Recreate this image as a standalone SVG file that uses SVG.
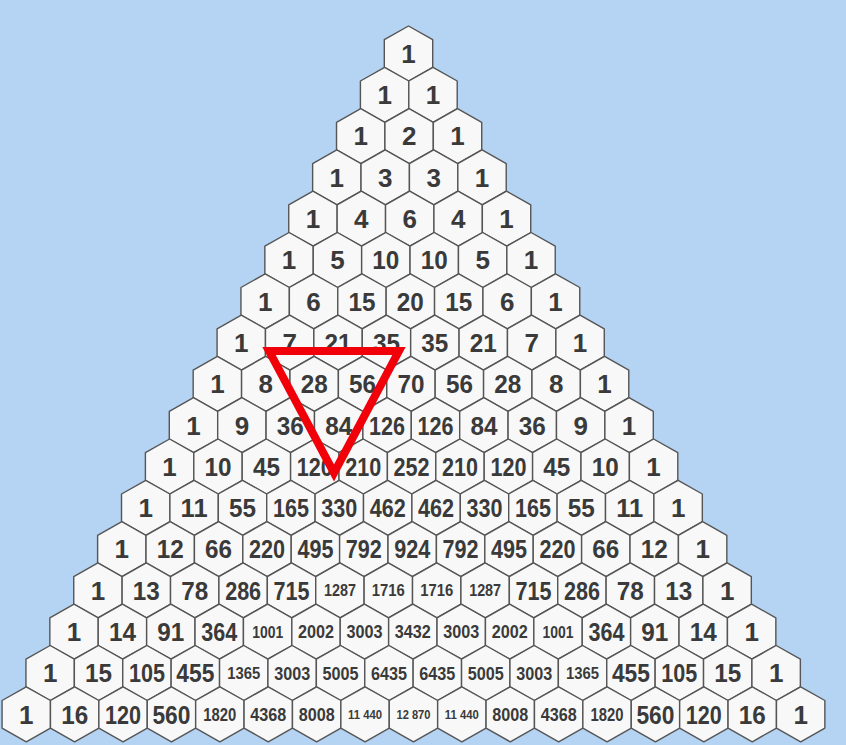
<svg xmlns="http://www.w3.org/2000/svg" xmlns:xlink="http://www.w3.org/1999/xlink" width="846" height="745" viewBox="0 0 846 745">
<defs>
<style>
.h{fill:#f8f8f8;stroke:#555555;stroke-width:1.4;stroke-linejoin:round}
.t{font-family:"Liberation Sans",Arial,sans-serif;font-weight:bold;fill:#3a3a3a;text-anchor:middle}
.L{font-size:26px}
.M{font-size:18.5px}
.S{font-size:16.5px}
.X{font-size:12.5px}
</style>
<path id="h" class="h" d="M0,-27.5 L24.2,-13.8 L24.2,13.8 L0,27.5 L-24.2,13.8 L-24.2,-13.8 Z"/>
</defs>
<rect width="846" height="745" fill="#b5d3f2"/>
<g id="triangle-cells">
<g id="row0" transform="translate(408.5,53.5)">
<g id="c0_0"><use href="#h"/><text class="t L" y="9.3">1</text></g>
</g>
<g id="row1" transform="translate(384.61,94.8)">
<g id="c1_0"><use href="#h"/><text class="t L" y="9.3">1</text></g>
<g id="c1_1" transform="translate(48.4,0)"><use href="#h"/><text class="t L" y="9.3">1</text></g>
</g>
<g id="row2" transform="translate(360.72,136.1)">
<g id="c2_0"><use href="#h"/><text class="t L" y="9.3">1</text></g>
<g id="c2_1" transform="translate(48.4,0)"><use href="#h"/><text class="t L" y="9.3">2</text></g>
<g id="c2_2" transform="translate(96.8,0)"><use href="#h"/><text class="t L" y="9.3">1</text></g>
</g>
<g id="row3" transform="translate(336.83,177.4)">
<g id="c3_0"><use href="#h"/><text class="t L" y="9.3">1</text></g>
<g id="c3_1" transform="translate(48.4,0)"><use href="#h"/><text class="t L" y="9.3">3</text></g>
<g id="c3_2" transform="translate(96.8,0)"><use href="#h"/><text class="t L" y="9.3">3</text></g>
<g id="c3_3" transform="translate(145.2,0)"><use href="#h"/><text class="t L" y="9.3">1</text></g>
</g>
<g id="row4" transform="translate(312.94,218.7)">
<g id="c4_0"><use href="#h"/><text class="t L" y="9.3">1</text></g>
<g id="c4_1" transform="translate(48.4,0)"><use href="#h"/><text class="t L" y="9.3">4</text></g>
<g id="c4_2" transform="translate(96.8,0)"><use href="#h"/><text class="t L" y="9.3">6</text></g>
<g id="c4_3" transform="translate(145.2,0)"><use href="#h"/><text class="t L" y="9.3">4</text></g>
<g id="c4_4" transform="translate(193.6,0)"><use href="#h"/><text class="t L" y="9.3">1</text></g>
</g>
<g id="row5" transform="translate(289.05,260)">
<g id="c5_0"><use href="#h"/><text class="t L" y="9.3">1</text></g>
<g id="c5_1" transform="translate(48.4,0)"><use href="#h"/><text class="t L" y="9.3">5</text></g>
<g id="c5_2" transform="translate(96.8,0)"><use href="#h"/><text class="t L" y="9.3" textLength="27" lengthAdjust="spacingAndGlyphs">10</text></g>
<g id="c5_3" transform="translate(145.2,0)"><use href="#h"/><text class="t L" y="9.3" textLength="27" lengthAdjust="spacingAndGlyphs">10</text></g>
<g id="c5_4" transform="translate(193.6,0)"><use href="#h"/><text class="t L" y="9.3">5</text></g>
<g id="c5_5" transform="translate(242,0)"><use href="#h"/><text class="t L" y="9.3">1</text></g>
</g>
<g id="row6" transform="translate(265.16,301.3)">
<g id="c6_0"><use href="#h"/><text class="t L" y="9.3">1</text></g>
<g id="c6_1" transform="translate(48.4,0)"><use href="#h"/><text class="t L" y="9.3">6</text></g>
<g id="c6_2" transform="translate(96.8,0)"><use href="#h"/><text class="t L" y="9.3" textLength="27" lengthAdjust="spacingAndGlyphs">15</text></g>
<g id="c6_3" transform="translate(145.2,0)"><use href="#h"/><text class="t L" y="9.3" textLength="27" lengthAdjust="spacingAndGlyphs">20</text></g>
<g id="c6_4" transform="translate(193.6,0)"><use href="#h"/><text class="t L" y="9.3" textLength="27" lengthAdjust="spacingAndGlyphs">15</text></g>
<g id="c6_5" transform="translate(242,0)"><use href="#h"/><text class="t L" y="9.3">6</text></g>
<g id="c6_6" transform="translate(290.4,0)"><use href="#h"/><text class="t L" y="9.3">1</text></g>
</g>
<g id="row7" transform="translate(241.27,342.6)">
<g id="c7_0"><use href="#h"/><text class="t L" y="9.3">1</text></g>
<g id="c7_1" transform="translate(48.4,0)"><use href="#h"/><text class="t L" y="9.3">7</text></g>
<g id="c7_2" transform="translate(96.8,0)"><use href="#h"/><text class="t L" y="9.3" textLength="27" lengthAdjust="spacingAndGlyphs">21</text></g>
<g id="c7_3" transform="translate(145.2,0)"><use href="#h"/><text class="t L" y="9.3" textLength="27" lengthAdjust="spacingAndGlyphs">35</text></g>
<g id="c7_4" transform="translate(193.6,0)"><use href="#h"/><text class="t L" y="9.3" textLength="27" lengthAdjust="spacingAndGlyphs">35</text></g>
<g id="c7_5" transform="translate(242,0)"><use href="#h"/><text class="t L" y="9.3" textLength="27" lengthAdjust="spacingAndGlyphs">21</text></g>
<g id="c7_6" transform="translate(290.4,0)"><use href="#h"/><text class="t L" y="9.3">7</text></g>
<g id="c7_7" transform="translate(338.8,0)"><use href="#h"/><text class="t L" y="9.3">1</text></g>
</g>
<g id="row8" transform="translate(217.38,383.9)">
<g id="c8_0"><use href="#h"/><text class="t L" y="9.3">1</text></g>
<g id="c8_1" transform="translate(48.4,0)"><use href="#h"/><text class="t L" y="9.3">8</text></g>
<g id="c8_2" transform="translate(96.8,0)"><use href="#h"/><text class="t L" y="9.3" textLength="27" lengthAdjust="spacingAndGlyphs">28</text></g>
<g id="c8_3" transform="translate(145.2,0)"><use href="#h"/><text class="t L" y="9.3" textLength="27" lengthAdjust="spacingAndGlyphs">56</text></g>
<g id="c8_4" transform="translate(193.6,0)"><use href="#h"/><text class="t L" y="9.3" textLength="27" lengthAdjust="spacingAndGlyphs">70</text></g>
<g id="c8_5" transform="translate(242,0)"><use href="#h"/><text class="t L" y="9.3" textLength="27" lengthAdjust="spacingAndGlyphs">56</text></g>
<g id="c8_6" transform="translate(290.4,0)"><use href="#h"/><text class="t L" y="9.3" textLength="27" lengthAdjust="spacingAndGlyphs">28</text></g>
<g id="c8_7" transform="translate(338.8,0)"><use href="#h"/><text class="t L" y="9.3">8</text></g>
<g id="c8_8" transform="translate(387.2,0)"><use href="#h"/><text class="t L" y="9.3">1</text></g>
</g>
<g id="row9" transform="translate(193.49,425.2)">
<g id="c9_0"><use href="#h"/><text class="t L" y="9.3">1</text></g>
<g id="c9_1" transform="translate(48.4,0)"><use href="#h"/><text class="t L" y="9.3">9</text></g>
<g id="c9_2" transform="translate(96.8,0)"><use href="#h"/><text class="t L" y="9.3" textLength="27" lengthAdjust="spacingAndGlyphs">36</text></g>
<g id="c9_3" transform="translate(145.2,0)"><use href="#h"/><text class="t L" y="9.3" textLength="27" lengthAdjust="spacingAndGlyphs">84</text></g>
<g id="c9_4" transform="translate(193.6,0)"><use href="#h"/><text class="t L" y="9.3" textLength="36" lengthAdjust="spacingAndGlyphs">126</text></g>
<g id="c9_5" transform="translate(242,0)"><use href="#h"/><text class="t L" y="9.3" textLength="36" lengthAdjust="spacingAndGlyphs">126</text></g>
<g id="c9_6" transform="translate(290.4,0)"><use href="#h"/><text class="t L" y="9.3" textLength="27" lengthAdjust="spacingAndGlyphs">84</text></g>
<g id="c9_7" transform="translate(338.8,0)"><use href="#h"/><text class="t L" y="9.3" textLength="27" lengthAdjust="spacingAndGlyphs">36</text></g>
<g id="c9_8" transform="translate(387.2,0)"><use href="#h"/><text class="t L" y="9.3">9</text></g>
<g id="c9_9" transform="translate(435.6,0)"><use href="#h"/><text class="t L" y="9.3">1</text></g>
</g>
<g id="row10" transform="translate(169.6,466.5)">
<g id="c10_0"><use href="#h"/><text class="t L" y="9.3">1</text></g>
<g id="c10_1" transform="translate(48.4,0)"><use href="#h"/><text class="t L" y="9.3" textLength="27" lengthAdjust="spacingAndGlyphs">10</text></g>
<g id="c10_2" transform="translate(96.8,0)"><use href="#h"/><text class="t L" y="9.3" textLength="27" lengthAdjust="spacingAndGlyphs">45</text></g>
<g id="c10_3" transform="translate(145.2,0)"><use href="#h"/><text class="t L" y="9.3" textLength="36" lengthAdjust="spacingAndGlyphs">120</text></g>
<g id="c10_4" transform="translate(193.6,0)"><use href="#h"/><text class="t L" y="9.3" textLength="36" lengthAdjust="spacingAndGlyphs">210</text></g>
<g id="c10_5" transform="translate(242,0)"><use href="#h"/><text class="t L" y="9.3" textLength="36" lengthAdjust="spacingAndGlyphs">252</text></g>
<g id="c10_6" transform="translate(290.4,0)"><use href="#h"/><text class="t L" y="9.3" textLength="36" lengthAdjust="spacingAndGlyphs">210</text></g>
<g id="c10_7" transform="translate(338.8,0)"><use href="#h"/><text class="t L" y="9.3" textLength="36" lengthAdjust="spacingAndGlyphs">120</text></g>
<g id="c10_8" transform="translate(387.2,0)"><use href="#h"/><text class="t L" y="9.3" textLength="27" lengthAdjust="spacingAndGlyphs">45</text></g>
<g id="c10_9" transform="translate(435.6,0)"><use href="#h"/><text class="t L" y="9.3" textLength="27" lengthAdjust="spacingAndGlyphs">10</text></g>
<g id="c10_10" transform="translate(484,0)"><use href="#h"/><text class="t L" y="9.3">1</text></g>
</g>
<g id="row11" transform="translate(145.71,507.8)">
<g id="c11_0"><use href="#h"/><text class="t L" y="9.3">1</text></g>
<g id="c11_1" transform="translate(48.4,0)"><use href="#h"/><text class="t L" y="9.3" textLength="27" lengthAdjust="spacingAndGlyphs">11</text></g>
<g id="c11_2" transform="translate(96.8,0)"><use href="#h"/><text class="t L" y="9.3" textLength="27" lengthAdjust="spacingAndGlyphs">55</text></g>
<g id="c11_3" transform="translate(145.2,0)"><use href="#h"/><text class="t L" y="9.3" textLength="36" lengthAdjust="spacingAndGlyphs">165</text></g>
<g id="c11_4" transform="translate(193.6,0)"><use href="#h"/><text class="t L" y="9.3" textLength="36" lengthAdjust="spacingAndGlyphs">330</text></g>
<g id="c11_5" transform="translate(242,0)"><use href="#h"/><text class="t L" y="9.3" textLength="36" lengthAdjust="spacingAndGlyphs">462</text></g>
<g id="c11_6" transform="translate(290.4,0)"><use href="#h"/><text class="t L" y="9.3" textLength="36" lengthAdjust="spacingAndGlyphs">462</text></g>
<g id="c11_7" transform="translate(338.8,0)"><use href="#h"/><text class="t L" y="9.3" textLength="36" lengthAdjust="spacingAndGlyphs">330</text></g>
<g id="c11_8" transform="translate(387.2,0)"><use href="#h"/><text class="t L" y="9.3" textLength="36" lengthAdjust="spacingAndGlyphs">165</text></g>
<g id="c11_9" transform="translate(435.6,0)"><use href="#h"/><text class="t L" y="9.3" textLength="27" lengthAdjust="spacingAndGlyphs">55</text></g>
<g id="c11_10" transform="translate(484,0)"><use href="#h"/><text class="t L" y="9.3" textLength="27" lengthAdjust="spacingAndGlyphs">11</text></g>
<g id="c11_11" transform="translate(532.4,0)"><use href="#h"/><text class="t L" y="9.3">1</text></g>
</g>
<g id="row12" transform="translate(121.82,549.1)">
<g id="c12_0"><use href="#h"/><text class="t L" y="9.3">1</text></g>
<g id="c12_1" transform="translate(48.4,0)"><use href="#h"/><text class="t L" y="9.3" textLength="27" lengthAdjust="spacingAndGlyphs">12</text></g>
<g id="c12_2" transform="translate(96.8,0)"><use href="#h"/><text class="t L" y="9.3" textLength="27" lengthAdjust="spacingAndGlyphs">66</text></g>
<g id="c12_3" transform="translate(145.2,0)"><use href="#h"/><text class="t L" y="9.3" textLength="36" lengthAdjust="spacingAndGlyphs">220</text></g>
<g id="c12_4" transform="translate(193.6,0)"><use href="#h"/><text class="t L" y="9.3" textLength="36" lengthAdjust="spacingAndGlyphs">495</text></g>
<g id="c12_5" transform="translate(242,0)"><use href="#h"/><text class="t L" y="9.3" textLength="36" lengthAdjust="spacingAndGlyphs">792</text></g>
<g id="c12_6" transform="translate(290.4,0)"><use href="#h"/><text class="t L" y="9.3" textLength="36" lengthAdjust="spacingAndGlyphs">924</text></g>
<g id="c12_7" transform="translate(338.8,0)"><use href="#h"/><text class="t L" y="9.3" textLength="36" lengthAdjust="spacingAndGlyphs">792</text></g>
<g id="c12_8" transform="translate(387.2,0)"><use href="#h"/><text class="t L" y="9.3" textLength="36" lengthAdjust="spacingAndGlyphs">495</text></g>
<g id="c12_9" transform="translate(435.6,0)"><use href="#h"/><text class="t L" y="9.3" textLength="36" lengthAdjust="spacingAndGlyphs">220</text></g>
<g id="c12_10" transform="translate(484,0)"><use href="#h"/><text class="t L" y="9.3" textLength="27" lengthAdjust="spacingAndGlyphs">66</text></g>
<g id="c12_11" transform="translate(532.4,0)"><use href="#h"/><text class="t L" y="9.3" textLength="27" lengthAdjust="spacingAndGlyphs">12</text></g>
<g id="c12_12" transform="translate(580.8,0)"><use href="#h"/><text class="t L" y="9.3">1</text></g>
</g>
<g id="row13" transform="translate(97.93,590.4)">
<g id="c13_0"><use href="#h"/><text class="t L" y="9.3">1</text></g>
<g id="c13_1" transform="translate(48.4,0)"><use href="#h"/><text class="t L" y="9.3" textLength="27" lengthAdjust="spacingAndGlyphs">13</text></g>
<g id="c13_2" transform="translate(96.8,0)"><use href="#h"/><text class="t L" y="9.3" textLength="27" lengthAdjust="spacingAndGlyphs">78</text></g>
<g id="c13_3" transform="translate(145.2,0)"><use href="#h"/><text class="t L" y="9.3" textLength="36" lengthAdjust="spacingAndGlyphs">286</text></g>
<g id="c13_4" transform="translate(193.6,0)"><use href="#h"/><text class="t L" y="9.3" textLength="36" lengthAdjust="spacingAndGlyphs">715</text></g>
<g id="c13_5" transform="translate(242,0)"><use href="#h"/><text class="t S" y="6" textLength="32" lengthAdjust="spacingAndGlyphs">1287</text></g>
<g id="c13_6" transform="translate(290.4,0)"><use href="#h"/><text class="t S" y="6" textLength="33" lengthAdjust="spacingAndGlyphs">1716</text></g>
<g id="c13_7" transform="translate(338.8,0)"><use href="#h"/><text class="t S" y="6" textLength="33" lengthAdjust="spacingAndGlyphs">1716</text></g>
<g id="c13_8" transform="translate(387.2,0)"><use href="#h"/><text class="t S" y="6" textLength="32" lengthAdjust="spacingAndGlyphs">1287</text></g>
<g id="c13_9" transform="translate(435.6,0)"><use href="#h"/><text class="t L" y="9.3" textLength="36" lengthAdjust="spacingAndGlyphs">715</text></g>
<g id="c13_10" transform="translate(484,0)"><use href="#h"/><text class="t L" y="9.3" textLength="36" lengthAdjust="spacingAndGlyphs">286</text></g>
<g id="c13_11" transform="translate(532.4,0)"><use href="#h"/><text class="t L" y="9.3" textLength="27" lengthAdjust="spacingAndGlyphs">78</text></g>
<g id="c13_12" transform="translate(580.8,0)"><use href="#h"/><text class="t L" y="9.3" textLength="27" lengthAdjust="spacingAndGlyphs">13</text></g>
<g id="c13_13" transform="translate(629.2,0)"><use href="#h"/><text class="t L" y="9.3">1</text></g>
</g>
<g id="row14" transform="translate(74.04,631.7)">
<g id="c14_0"><use href="#h"/><text class="t L" y="9.3">1</text></g>
<g id="c14_1" transform="translate(48.4,0)"><use href="#h"/><text class="t L" y="9.3" textLength="27" lengthAdjust="spacingAndGlyphs">14</text></g>
<g id="c14_2" transform="translate(96.8,0)"><use href="#h"/><text class="t L" y="9.3" textLength="27" lengthAdjust="spacingAndGlyphs">91</text></g>
<g id="c14_3" transform="translate(145.2,0)"><use href="#h"/><text class="t L" y="9.3" textLength="36" lengthAdjust="spacingAndGlyphs">364</text></g>
<g id="c14_4" transform="translate(193.6,0)"><use href="#h"/><text class="t S" y="6" textLength="31" lengthAdjust="spacingAndGlyphs">1001</text></g>
<g id="c14_5" transform="translate(242,0)"><use href="#h"/><text class="t M" y="6.7" textLength="36" lengthAdjust="spacingAndGlyphs">2002</text></g>
<g id="c14_6" transform="translate(290.4,0)"><use href="#h"/><text class="t M" y="6.7" textLength="36" lengthAdjust="spacingAndGlyphs">3003</text></g>
<g id="c14_7" transform="translate(338.8,0)"><use href="#h"/><text class="t M" y="6.7" textLength="36" lengthAdjust="spacingAndGlyphs">3432</text></g>
<g id="c14_8" transform="translate(387.2,0)"><use href="#h"/><text class="t M" y="6.7" textLength="36" lengthAdjust="spacingAndGlyphs">3003</text></g>
<g id="c14_9" transform="translate(435.6,0)"><use href="#h"/><text class="t M" y="6.7" textLength="36" lengthAdjust="spacingAndGlyphs">2002</text></g>
<g id="c14_10" transform="translate(484,0)"><use href="#h"/><text class="t S" y="6" textLength="31" lengthAdjust="spacingAndGlyphs">1001</text></g>
<g id="c14_11" transform="translate(532.4,0)"><use href="#h"/><text class="t L" y="9.3" textLength="36" lengthAdjust="spacingAndGlyphs">364</text></g>
<g id="c14_12" transform="translate(580.8,0)"><use href="#h"/><text class="t L" y="9.3" textLength="27" lengthAdjust="spacingAndGlyphs">91</text></g>
<g id="c14_13" transform="translate(629.2,0)"><use href="#h"/><text class="t L" y="9.3" textLength="27" lengthAdjust="spacingAndGlyphs">14</text></g>
<g id="c14_14" transform="translate(677.6,0)"><use href="#h"/><text class="t L" y="9.3">1</text></g>
</g>
<g id="row15" transform="translate(50.15,673)">
<g id="c15_0"><use href="#h"/><text class="t L" y="9.3">1</text></g>
<g id="c15_1" transform="translate(48.4,0)"><use href="#h"/><text class="t L" y="9.3" textLength="27" lengthAdjust="spacingAndGlyphs">15</text></g>
<g id="c15_2" transform="translate(96.8,0)"><use href="#h"/><text class="t L" y="9.3" textLength="36" lengthAdjust="spacingAndGlyphs">105</text></g>
<g id="c15_3" transform="translate(145.2,0)"><use href="#h"/><text class="t L" y="9.3" textLength="38" lengthAdjust="spacingAndGlyphs">455</text></g>
<g id="c15_4" transform="translate(193.6,0)"><use href="#h"/><text class="t S" y="6" textLength="33" lengthAdjust="spacingAndGlyphs">1365</text></g>
<g id="c15_5" transform="translate(242,0)"><use href="#h"/><text class="t M" y="6.7" textLength="36" lengthAdjust="spacingAndGlyphs">3003</text></g>
<g id="c15_6" transform="translate(290.4,0)"><use href="#h"/><text class="t M" y="6.7" textLength="36" lengthAdjust="spacingAndGlyphs">5005</text></g>
<g id="c15_7" transform="translate(338.8,0)"><use href="#h"/><text class="t M" y="6.7" textLength="36" lengthAdjust="spacingAndGlyphs">6435</text></g>
<g id="c15_8" transform="translate(387.2,0)"><use href="#h"/><text class="t M" y="6.7" textLength="36" lengthAdjust="spacingAndGlyphs">6435</text></g>
<g id="c15_9" transform="translate(435.6,0)"><use href="#h"/><text class="t M" y="6.7" textLength="36" lengthAdjust="spacingAndGlyphs">5005</text></g>
<g id="c15_10" transform="translate(484,0)"><use href="#h"/><text class="t M" y="6.7" textLength="36" lengthAdjust="spacingAndGlyphs">3003</text></g>
<g id="c15_11" transform="translate(532.4,0)"><use href="#h"/><text class="t S" y="6" textLength="33" lengthAdjust="spacingAndGlyphs">1365</text></g>
<g id="c15_12" transform="translate(580.8,0)"><use href="#h"/><text class="t L" y="9.3" textLength="38" lengthAdjust="spacingAndGlyphs">455</text></g>
<g id="c15_13" transform="translate(629.2,0)"><use href="#h"/><text class="t L" y="9.3" textLength="36" lengthAdjust="spacingAndGlyphs">105</text></g>
<g id="c15_14" transform="translate(677.6,0)"><use href="#h"/><text class="t L" y="9.3" textLength="27" lengthAdjust="spacingAndGlyphs">15</text></g>
<g id="c15_15" transform="translate(726,0)"><use href="#h"/><text class="t L" y="9.3">1</text></g>
</g>
<g id="row16" transform="translate(26.26,714.3)">
<g id="c16_0"><use href="#h"/><text class="t L" y="9.3">1</text></g>
<g id="c16_1" transform="translate(48.4,0)"><use href="#h"/><text class="t L" y="9.3" textLength="27" lengthAdjust="spacingAndGlyphs">16</text></g>
<g id="c16_2" transform="translate(96.8,0)"><use href="#h"/><text class="t L" y="9.3" textLength="36" lengthAdjust="spacingAndGlyphs">120</text></g>
<g id="c16_3" transform="translate(145.2,0)"><use href="#h"/><text class="t L" y="9.3" textLength="38" lengthAdjust="spacingAndGlyphs">560</text></g>
<g id="c16_4" transform="translate(193.6,0)"><use href="#h"/><text class="t M" y="6.7" textLength="33" lengthAdjust="spacingAndGlyphs">1820</text></g>
<g id="c16_5" transform="translate(242,0)"><use href="#h"/><text class="t M" y="6.7" textLength="36" lengthAdjust="spacingAndGlyphs">4368</text></g>
<g id="c16_6" transform="translate(290.4,0)"><use href="#h"/><text class="t M" y="6.7" textLength="36" lengthAdjust="spacingAndGlyphs">8008</text></g>
<g id="c16_7" transform="translate(338.8,0)"><use href="#h"/><text class="t X" y="4.5" textLength="34" lengthAdjust="spacingAndGlyphs">11 440</text></g>
<g id="c16_8" transform="translate(387.2,0)"><use href="#h"/><text class="t X" y="4.5" textLength="34" lengthAdjust="spacingAndGlyphs">12 870</text></g>
<g id="c16_9" transform="translate(435.6,0)"><use href="#h"/><text class="t X" y="4.5" textLength="34" lengthAdjust="spacingAndGlyphs">11 440</text></g>
<g id="c16_10" transform="translate(484,0)"><use href="#h"/><text class="t M" y="6.7" textLength="36" lengthAdjust="spacingAndGlyphs">8008</text></g>
<g id="c16_11" transform="translate(532.4,0)"><use href="#h"/><text class="t M" y="6.7" textLength="36" lengthAdjust="spacingAndGlyphs">4368</text></g>
<g id="c16_12" transform="translate(580.8,0)"><use href="#h"/><text class="t M" y="6.7" textLength="33" lengthAdjust="spacingAndGlyphs">1820</text></g>
<g id="c16_13" transform="translate(629.2,0)"><use href="#h"/><text class="t L" y="9.3" textLength="38" lengthAdjust="spacingAndGlyphs">560</text></g>
<g id="c16_14" transform="translate(677.6,0)"><use href="#h"/><text class="t L" y="9.3" textLength="36" lengthAdjust="spacingAndGlyphs">120</text></g>
<g id="c16_15" transform="translate(726,0)"><use href="#h"/><text class="t L" y="9.3" textLength="27" lengthAdjust="spacingAndGlyphs">16</text></g>
<g id="c16_16" transform="translate(774.4,0)"><use href="#h"/><text class="t L" y="9.3">1</text></g>
</g>
</g>
<g id="highlight">
<polygon points="269,351 399,351 334,473" fill="none" stroke="#f2000a" stroke-width="8" stroke-linejoin="miter" stroke-miterlimit="10"/>
</g>
</svg>
